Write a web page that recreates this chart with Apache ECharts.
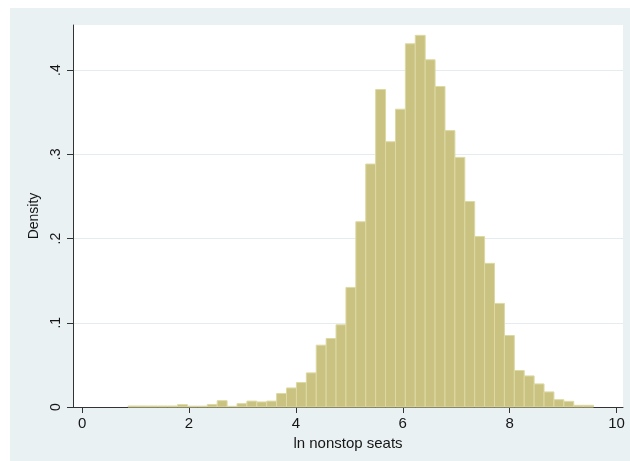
<!DOCTYPE html>
<html>
<head>
<meta charset="utf-8">
<script src="https://cdn.jsdelivr.net/npm/echarts@6/dist/echarts.min.js"></script>
<style>
  html, body { margin: 0; padding: 0; background: #fff; }
  #chart { width: 630px; height: 461px; }
</style>
</head>
<body>
<div id="chart"></div>
<script>
// histogram of ln nonstop seats, bins
const binStart = 0.86;
const binWidth = 0.1853;
const density = [
  0.0012, 0.0012, 0.0012, 0.0012, 0.0012, 0.0028, 0.001, 0.001, 0.003, 0.0075,
  0.0008, 0.004, 0.007, 0.006, 0.007, 0.016, 0.0226, 0.029, 0.0405, 0.0734,
  0.0813, 0.0976, 0.142, 0.22, 0.2885, 0.377, 0.315, 0.3536, 0.4313, 0.4413,
  0.4123, 0.3806, 0.3282, 0.2964, 0.244, 0.2024, 0.1706, 0.123, 0.0849, 0.0433,
  0.0369, 0.0274, 0.0179, 0.0087, 0.0067, 0.002, 0.002
];
const xTicks = [0, 2, 4, 6, 8, 10];
const yTicks = [0, 0.1, 0.2, 0.3, 0.4];
const yTickLabels = ["0", ".1", ".2", ".3", ".4"];

const FONT = "Liberation Sans";
const TXT = "#151515";

const bins = density.map((d, i) => [binStart + i * binWidth, binStart + (i + 1) * binWidth, d]);

const chart = echarts.init(document.getElementById("chart"), null, { renderer: "canvas" });

chart.setOption({
  animation: false,
  backgroundColor: "#fff",
  graphic: {
    elements: [{
      type: "rect",
      z: -100,
      silent: true,
      shape: { x: 10, y: 8, width: 620, height: 453 },
      style: { fill: "#eaf1f3" }
    }]
  },
  grid: {
    left: 73, right: 7, top: 25, bottom: 54,
    show: true,
    backgroundColor: "#fff",
    borderWidth: 0
  },
  xAxis: {
    type: "value",
    min: -0.17,
    max: 10.12,
    name: "ln nonstop seats",
    nameLocation: "middle",
    nameGap: 24,
    nameTextStyle: { fontFamily: FONT, fontSize: 15, color: TXT },
    axisLine: { show: true, onZero: false, lineStyle: { color: "#333", width: 1 } },
    axisTick: { show: true, length: 6, customValues: xTicks, lineStyle: { color: "#333" } },
    axisLabel: {
      customValues: xTicks,
      margin: 9,
      fontFamily: FONT, fontSize: 15, color: TXT
    },
    splitLine: { show: false }
  },
  yAxis: {
    type: "value",
    min: 0,
    max: 0.4536,
    name: "Density",
    nameLocation: "middle",
    nameRotate: 90,
    nameGap: 30,
    nameTextStyle: { fontFamily: FONT, fontSize: 14, color: TXT },
    axisLine: { show: true, onZero: false, lineStyle: { color: "#333", width: 1 } },
    axisTick: { show: true, length: 6, customValues: yTicks, lineStyle: { color: "#333" } },
    axisLabel: {
      customValues: yTicks,
      rotate: 90,
      margin: 10,
      fontFamily: FONT, fontSize: 14, color: TXT,
      formatter: v => {
        const k = yTicks.findIndex(t => Math.abs(t - v) < 1e-9);
        return k >= 0 ? yTickLabels[k] : "";
      }
    },
    splitLine: { show: true, lineStyle: { color: "#e4ecef", width: 1 } }
  },
  series: [{
    type: "custom",
    data: bins,
    encode: { x: [0, 1], y: 2 },
    renderItem: (params, api) => {
      const p0 = api.coord([api.value(0), api.value(2)]);
      const p1 = api.coord([api.value(1), 0]);
      return {
        type: "rect",
        shape: { x: p0[0], y: p0[1], width: p1[0] - p0[0], height: p1[1] - p0[1] },
        style: { fill: "#c9c281", stroke: "#ddd9a3", lineWidth: 1 }
      };
    }
  }]
});
</script>
</body>
</html>
